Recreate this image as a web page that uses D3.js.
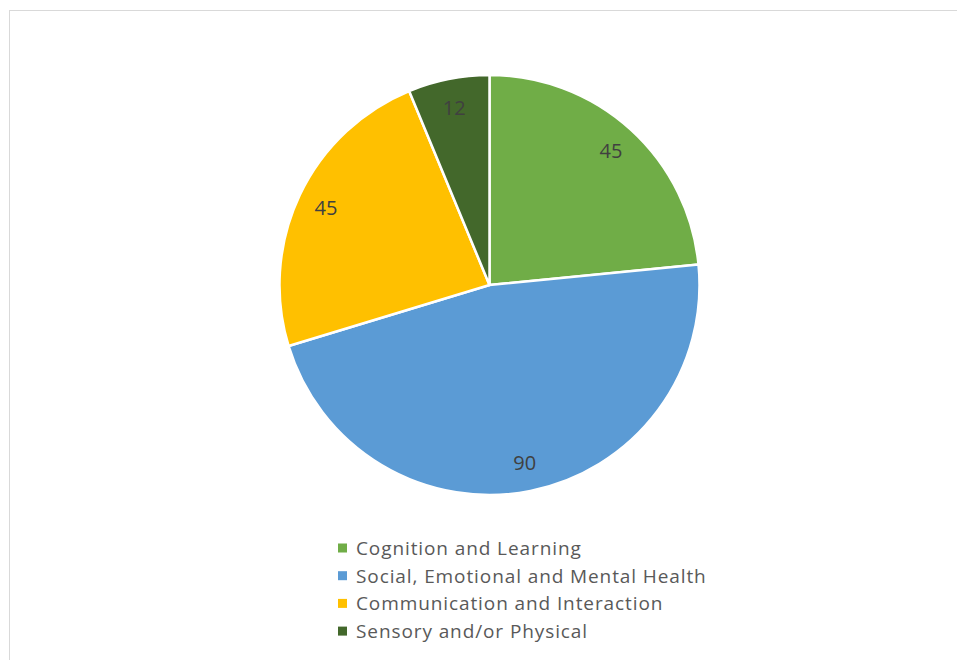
<!DOCTYPE html>
<html lang="en">
<head>
<meta charset="utf-8">
<script src="https://cdn.jsdelivr.net/npm/d3@7"></script>
<style>
  body { margin: 0; background: #fff; }
  svg { display: block; font-family: "Open Sans", sans-serif; }
</style>
</head>
<body>
<script>
// chart data
var categories = ["Cognition and Learning", "Social, Emotional and Mental Health",
                  "Communication and Interaction", "Sensory and/or Physical"];
var values = [45, 90, 45, 12];
var colors = ["#70AD47", "#5B9BD5", "#FFC000", "#43682B"];

var w = 957, h = 660;
var cx = 489.5, cy = 285, r = 210;

var svg = d3.select("body").append("svg")
    .attr("width", w)
    .attr("height", h);

// chart frame (runs off the right and bottom edges)
svg.append("rect")
    .attr("x", 9.5).attr("y", 10.5)
    .attr("width", w).attr("height", h)
    .attr("fill", "none")
    .attr("stroke", "#d9d9d9");

var data = categories.map(function(c, i) { return {name: c, value: values[i], color: colors[i]}; });

var pie = d3.pie().sort(null).value(function(d) { return d.value; });
var arc = d3.arc().innerRadius(0).outerRadius(r);
var labelArc = d3.arc().innerRadius(181).outerRadius(181);

var g = svg.append("g").attr("transform", "translate(" + cx + "," + cy + ")");

var arcs = pie(data);

g.selectAll("path.slice")
    .data(arcs)
    .enter().append("path")
    .attr("class", "slice")
    .attr("d", arc)
    .attr("fill", function(d) { return d.data.color; })
    .attr("stroke", "#fff")
    .attr("stroke-width", 2.5)
    .attr("stroke-linejoin", "round");

g.selectAll("text.lbl")
    .data(arcs)
    .enter().append("text")
    .attr("class", "lbl")
    .attr("transform", function(d) { return "translate(" + labelArc.centroid(d) + ")"; })
    .attr("text-anchor", "middle")
    .attr("dy", "0.36em")
    .attr("font-size", 20)
    .attr("fill", "#404040")
    .text(function(d) { return d.data.value; });

// legend
var legend = svg.append("g").attr("transform", "translate(338,548)");
var row = legend.selectAll("g")
    .data(data)
    .enter().append("g")
    .attr("transform", function(d, i) { return "translate(0," + (i * 27.7) + ")"; });

row.append("rect")
    .attr("x", 0).attr("y", -4.5)
    .attr("width", 9).attr("height", 9)
    .attr("fill", function(d) { return d.color; });

row.append("text")
    .attr("x", 18)
    .attr("dy", "0.36em")
    .attr("font-size", 19)
    .attr("letter-spacing", 0.9)
    .attr("fill", "#595959")
    .text(function(d) { return d.name; });
</script>
</body>
</html>
